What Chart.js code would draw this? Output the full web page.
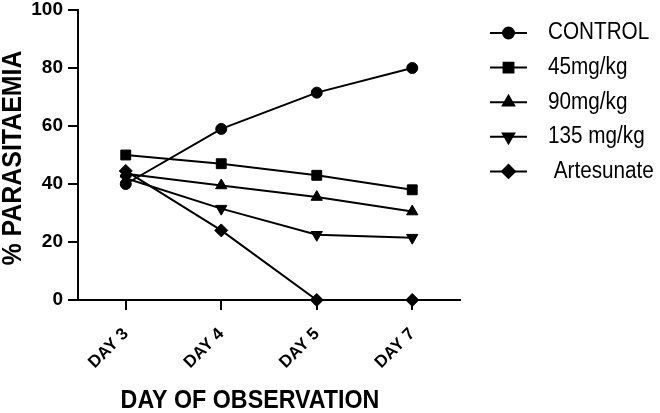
<!DOCTYPE html>
<html>
<head>
<meta charset="utf-8">
<script src="https://cdn.jsdelivr.net/npm/chart.js@4/dist/chart.umd.min.js"></script>
<style>
  html, body { margin: 0; padding: 0; background: #fff; }
  #wrap { width: 660px; height: 413px; }
</style>
</head>
<body>
<div id="wrap"><canvas id="myChart" width="660" height="413"></canvas></div>
<script>
// valores
var days = ['DAY 3', 'DAY 4', 'DAY 5', 'DAY 7'];
var control = [40, 59, 71.5, 80];
var dose45 = [50, 47, 43, 38];
var dose90 = [43.5, 39.5, 35.5, 30.5];
var dose135 = [42, 31.5, 22.5, 21.5];
var artesunate = [44.5, 24, 0, 0];
var seriesNames = ['CONTROL', '45mg/kg', '90mg/kg', '135 mg/kg', ' Artesunate'];

var FONT = "'Liberation Sans', Arial, sans-serif";

function serie(label, data, style, radius, rotation) {
    return {
        label: label,
        data: data,
        borderColor: '#000',
        backgroundColor: '#000',
        borderWidth: 2,
        pointStyle: style,
        pointRadius: radius,
        pointHoverRadius: radius,
        pointRotation: rotation || 0,
        pointBackgroundColor: '#000',
        pointBorderColor: '#000',
        pointBorderWidth: 1,
        tension: 0,
        clip: false
    };
}

// texto um pouco estreitado, como no original
function textoEstreito(ctx, txt, x, y, font, sx, ang, align) {
    ctx.save();
    ctx.translate(x, y);
    if (ang) ctx.rotate(ang);
    ctx.scale(sx, 1);
    ctx.font = font;
    ctx.textAlign = align || 'center';
    ctx.textBaseline = 'middle';
    ctx.fillStyle = '#000';
    ctx.fillText(txt, 0, 0);
    ctx.restore();
}

// legenda e títulos desenhados à mão
var extras = {
    id: 'extras',
    afterDraw: function(chart) {
        var ctx = chart.ctx;
        var area = chart.chartArea;
        ctx.save();
        chart.data.datasets.forEach(function(ds, i) {
            var y = 33 + i * 34.6;
            ctx.strokeStyle = '#000';
            ctx.lineWidth = 2;
            ctx.beginPath();
            ctx.moveTo(490, y);
            ctx.lineTo(527, y);
            ctx.stroke();
            ctx.fillStyle = '#000';
            Chart.helpers.drawPoint(ctx, {
                pointStyle: ds.pointStyle,
                radius: ds.pointRadius,
                rotation: ds.pointRotation,
                borderWidth: 1
            }, 508.5, y);
            textoEstreito(ctx, seriesNames[i], 548, y, '23px ' + FONT, 0.9, 0, 'left');
        });
        textoEstreito(ctx, 'DAY OF OBSERVATION', 250, 401, 'bold 25px ' + FONT, 0.93);
        textoEstreito(ctx, '% PARASITAEMIA', 13, (area.top + area.bottom) / 2 + 3,
            'bold 28px ' + FONT, 0.89, -Math.PI / 2);
        ctx.restore();
    }
};

var myChart = document.getElementById('myChart').getContext('2d');

var parasitChart = new Chart(myChart, {
    type: 'line',
    data: {
        labels: days,
        datasets: [
            serie(seriesNames[0], control, 'circle', 5.5),
            serie(seriesNames[1], dose45, 'rect', 7),
            serie(seriesNames[2], dose90, 'triangle', 6.5),
            serie(seriesNames[3], dose135, 'triangle', 6.5, 180),
            serie(seriesNames[4], artesunate, 'rectRot', 6.5)
        ]
    },
    options: {
        responsive: false,
        animation: false,
        layout: { padding: { left: 0, right: 200, top: 10, bottom: 0 } },
        plugins: {
            legend: { display: false },
            tooltip: { enabled: false }
        },
        scales: {
            x: {
                offset: true,
                afterFit: function(scale) {
                    scale.height = 113;
                    scale.paddingLeft = 0;
                    scale.paddingRight = 0;
                },
                grid: {
                    drawOnChartArea: false,
                    drawTicks: true,
                    tickLength: 10,
                    tickColor: '#000',
                    lineWidth: 2,
                    offset: false
                },
                border: { color: '#000', width: 2 },
                ticks: {
                    color: '#000',
                    font: { family: FONT, size: 17, weight: 'bold' },
                    minRotation: 45,
                    maxRotation: 45,
                    autoSkip: false,
                    padding: 14
                }
            },
            y: {
                min: 0,
                max: 100,
                afterFit: function(scale) {
                    scale.width = 78;
                    scale.paddingTop = 0;
                    scale.paddingBottom = 0;
                },
                grid: {
                    drawOnChartArea: false,
                    drawTicks: true,
                    tickLength: 10,
                    tickColor: '#000',
                    lineWidth: 2
                },
                border: { color: '#000', width: 2 },
                ticks: {
                    stepSize: 20,
                    color: '#000',
                    padding: 5,
                    font: { family: FONT, size: 19, weight: 'bold', lineHeight: 1 }
                }
            }
        }
    },
    plugins: [extras]
});
</script>
</body>
</html>
